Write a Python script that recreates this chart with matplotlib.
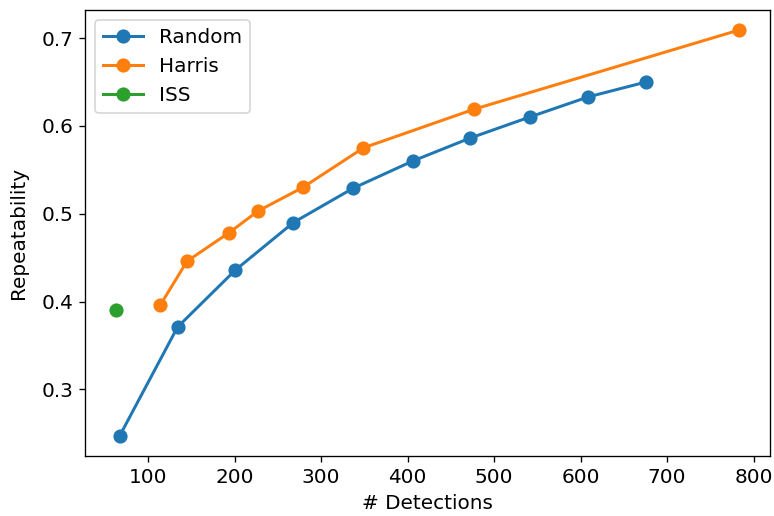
import matplotlib
matplotlib.use('Agg')
import matplotlib.pyplot as plt

# values
random_x = [67, 134, 201, 268, 337, 406, 472, 541, 609, 676]
random_y = [0.247, 0.371, 0.436, 0.490, 0.529, 0.560, 0.586, 0.610, 0.633, 0.650]
harris_x = [114, 145, 193, 227, 279, 349, 477, 783]
harris_y = [0.396, 0.446, 0.478, 0.503, 0.530, 0.575, 0.619, 0.709]
iss_x = [63]
iss_y = [0.390]

plt.rcParams['font.size'] = 12

fig, ax = plt.subplots(figsize=(6.4583, 4.3), dpi=120)
ax.plot(random_x, random_y, marker='o', markersize=7.5, linewidth=1.8, label='Random')
ax.plot(harris_x, harris_y, marker='o', markersize=7.5, linewidth=1.8, label='Harris')
ax.plot(iss_x, iss_y, marker='o', markersize=7.5, linewidth=1.8, label='ISS')

ax.set_xlabel('# Detections')
ax.set_ylabel('Repeatability', labelpad=8)
ax.set_xticks([100, 200, 300, 400, 500, 600, 700, 800])
ax.set_yticks([0.3, 0.4, 0.5, 0.6, 0.7])
ax.legend(loc='upper left')

fig.subplots_adjust(left=0.1097, right=0.9935, top=0.981, bottom=0.1157)
fig.savefig('out.png')
